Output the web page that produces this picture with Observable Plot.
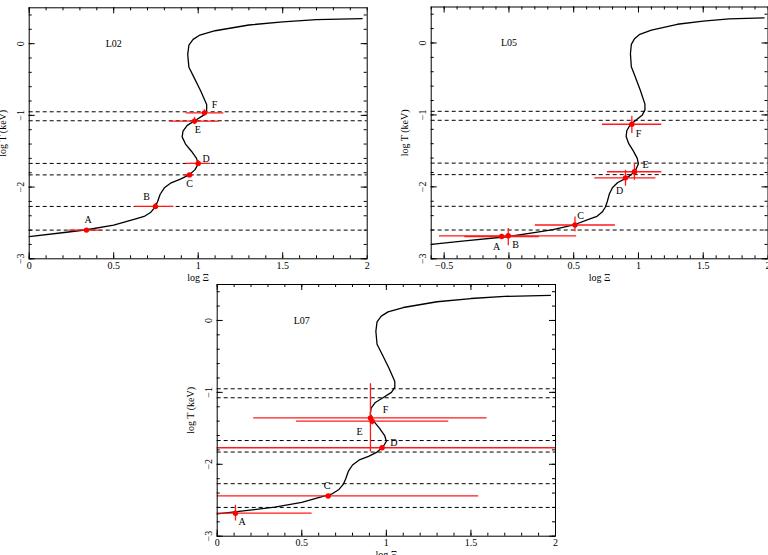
<!DOCTYPE html>
<html><head><meta charset="utf-8">
<script src="https://cdn.jsdelivr.net/npm/d3@7"></script>
<script src="https://cdn.jsdelivr.net/npm/@observablehq/plot@0.6"></script>
<style>
html,body{margin:0;padding:0;background:#fff;overflow:hidden;}
#wrap{position:relative;width:768px;height:555px;overflow:hidden;background:#fff;}
#wrap svg{position:absolute;}
</style></head><body><div id="wrap"></div>
<script>
// S-curve (log Xi, log T)
const curveX = [-0.6,-0.34,0.0,0.22,0.34,0.50,0.62,0.68,0.72,0.745,0.76,0.775,0.80,0.84,0.895,0.945,0.98,1.0,0.99,0.96,0.925,0.905,0.91,0.935,0.98,1.03,1.05,1.05,1.015,0.975,0.945,0.938,0.945,0.97,1.01,1.1,1.3,1.5,1.7,1.97];
const curveY = [-2.80,-2.75,-2.69,-2.63,-2.595,-2.53,-2.45,-2.41,-2.35,-2.28,-2.2,-2.1,-2.01,-1.94,-1.89,-1.83,-1.76,-1.68,-1.6,-1.5,-1.4,-1.3,-1.22,-1.14,-1.075,-1.0,-0.93,-0.85,-0.66,-0.47,-0.33,-0.15,-0.02,0.06,0.12,0.18,0.26,0.305,0.335,0.35];
const levels = [-0.95,-1.075,-1.67,-1.83,-2.27,-2.6];

const panelNames = ["L02","L05","L07"];
const titleX = [0.5, 0, 0.5];
const titleY = [0, 0, 0];

// L02
const l02Name = ["A","B","C","D","E","F"];
const l02X   = [0.339,0.747,0.948,1.0,0.978,1.037];
const l02Y   = [-2.60,-2.27,-1.83,-1.67,-1.08,-0.965];
const l02XLo = [0.234,0.629,0.92,0.929,0.832,0.929];
const l02XHi = [0.432,0.856,0.975,1.073,1.126,1.152];
const l02YLo = [-2.62,-2.31,-1.85,-1.71,-1.13,-1.01];
const l02YHi = [-2.58,-2.23,-1.81,-1.63,-1.03,-0.92];
const l02LX  = [0.349,0.694,0.949,1.047,0.998,1.096];
const l02LY  = [-2.45,-2.14,-1.95,-1.60,-1.20,-0.85];

// L05
const l05Name = ["A","B","C","D","E","F"];
const l05X   = [-0.056,-0.005,0.51,0.90,0.969,0.949];
const l05Y   = [-2.69,-2.68,-2.53,-1.875,-1.79,-1.13];
const l05XLo = [-0.34,-0.536,0.204,0.663,0.76,0.722];
const l05XHi = [0.235,0.523,0.822,1.135,1.18,1.18];
const l05YLo = [-2.72,-2.82,-2.625,-1.99,-1.907,-1.26];
const l05YHi = [-2.66,-2.58,-2.42,-1.77,-1.675,-1.018];
const l05LX  = [-0.095,0.052,0.553,0.854,1.054,1.0];
const l05LY  = [-2.83,-2.80,-2.40,-2.05,-1.70,-1.26];

// L07
const l07Name = ["A","C","D","E","F"];
const l07X   = [0.108,0.656,0.975,0.916,0.906];
const l07Y   = [-2.68,-2.44,-1.77,-1.40,-1.356];
const l07XLo = [-0.35,-0.23,-1.0,0.469,0.216];
const l07XHi = [0.561,1.546,3.0,1.369,1.596];
const l07YLo = [-2.79,-2.46,-1.79,-1.45,-1.83];
const l07YHi = [-2.57,-2.42,-1.75,-1.35,-0.88];
const l07LX  = [0.148,0.65,1.044,0.841,0.995];
const l07LY  = [-2.80,-2.30,-1.70,-1.55,-1.24];

const xMajorA = [0,0.5,1,1.5,2];
const xMajorB = [-0.5,0,0.5,1,1.5,2];
const yMajor = [0,-1,-2,-3];

function rows(n,x,y,xl,xh,yl,yh,lx,ly){
  return n.map((name,i)=>({name,x:x[i],y:y[i],xlo:xl[i],xhi:xh[i],ylo:yl[i],yhi:yh[i],lx:lx[i],ly:ly[i]}));
}
const curve = curveX.map((x,i)=>({x,y:curveY[i]}));
const fmt = d => d < 0 ? "\u2212" + Math.abs(d) : String(d);

function panel(idx, pts, xDomain, xMajor, box){
  const xMinor = d3.range(Math.round(xDomain[0]*10), Math.round(xDomain[1]*10)+1).map(v=>v/10);
  const yMinor = d3.range(-15, 3).map(v=>v/5);
  const fw = box.w - box.mL - box.mR, fh = box.h - box.mT - box.mB;
  // inward frame ticks drawn as short rules
  const tx = (t, size) => [
    Plot.ruleX(t, {x: d => d, insetTop: fh - size, stroke: "black"}),
    Plot.ruleX(t, {x: d => d, insetBottom: fh - size, stroke: "black"})
  ];
  const ty = (t, size) => [
    Plot.ruleY(t, {y: d => d, insetRight: fw - size, stroke: "black"}),
    Plot.ruleY(t, {y: d => d, insetLeft: fw - size, stroke: "black"})
  ];
  const p = Plot.plot({
    width: box.w, height: box.h,
    marginLeft: box.mL, marginRight: box.mR, marginTop: box.mT, marginBottom: box.mB,
    style: {fontFamily: "'Liberation Serif','Times New Roman',serif", fontSize: "10px", background: "transparent", overflow: "visible", color: "black"},
    x: {domain: xDomain},
    y: {domain: [-3, 0.5]},
    marks: [
      Plot.ruleY(levels, {stroke: "black", strokeWidth: 1, strokeDasharray: "4,3"}),
      Plot.line(curve, {x: "x", y: "y", stroke: "black", strokeWidth: 1.3, clip: true}),
      Plot.ruleY(pts, {y: "y", x1: "xlo", x2: "xhi", stroke: "#ff1a1a", strokeWidth: 1.3, clip: true}),
      Plot.ruleX(pts, {x: "x", y1: "ylo", y2: "yhi", stroke: "#ff1a1a", strokeWidth: 1.3, clip: true}),
      Plot.dot(pts, {x: "x", y: "y", r: 2.7, fill: "#ff0000", stroke: "none"}),
      Plot.text(pts, {x: "lx", y: "ly", text: "name", fontSize: 10}),
      Plot.text([panelNames[idx]], {x: titleX[idx], y: titleY[idx], text: d => d, fontSize: 10}),
      Plot.frame({stroke: "black", strokeWidth: 1}),
      tx(xMinor.filter(v => v >= xDomain[0] && v <= xDomain[1]), 3), tx(xMajor.filter(v => v < xDomain[1]), 6),
      ty(yMinor, 3), ty(yMajor, 6),
      Plot.axisX({anchor: "bottom", ticks: xMajor, tickSize: 0, tickPadding: 3, tickFormat: fmt, fontSize: 10,
        label: "log \u039E", labelAnchor: "center", labelOffset: 22, labelArrow: "none"}),
      Plot.axisY({anchor: "left", ticks: yMajor, tickSize: 0, tickPadding: 5, tickRotate: -90, tickFormat: fmt, fontSize: 10,
        label: "log T (keV)", labelAnchor: "center", labelOffset: 30, labelArrow: "none"})
    ]
  });
  p.style.left = box.left + "px";
  p.style.top = box.top + "px";
  p.style.maxWidth = "none";
  document.getElementById("wrap").appendChild(p);
}

panel(0, rows(l02Name,l02X,l02Y,l02XLo,l02XHi,l02YLo,l02YHi,l02LX,l02LY), [0,2], xMajorA,
  {left: 0, top: 0, w: 384, h: 285, mL: 28.7, mR: 17.3, mT: 7.3, mB: 26.7});
panel(1, rows(l05Name,l05X,l05Y,l05XLo,l05XHi,l05YLo,l05YHi,l05LX,l05LY), [-0.6,2], xMajorB,
  {left: 384, top: 0, w: 390, h: 285, mL: 46.7, mR: 6.5, mT: 6.5, mB: 26.7});
panel(2, rows(l07Name,l07X,l07Y,l07XLo,l07XHi,l07YLo,l07YHi,l07LX,l07LY), [0,2], xMajorA,
  {left: 170, top: 270, w: 400, h: 285, mL: 46.7, mR: 15, mT: 14, mB: 19.3});
</script>
</body></html>
